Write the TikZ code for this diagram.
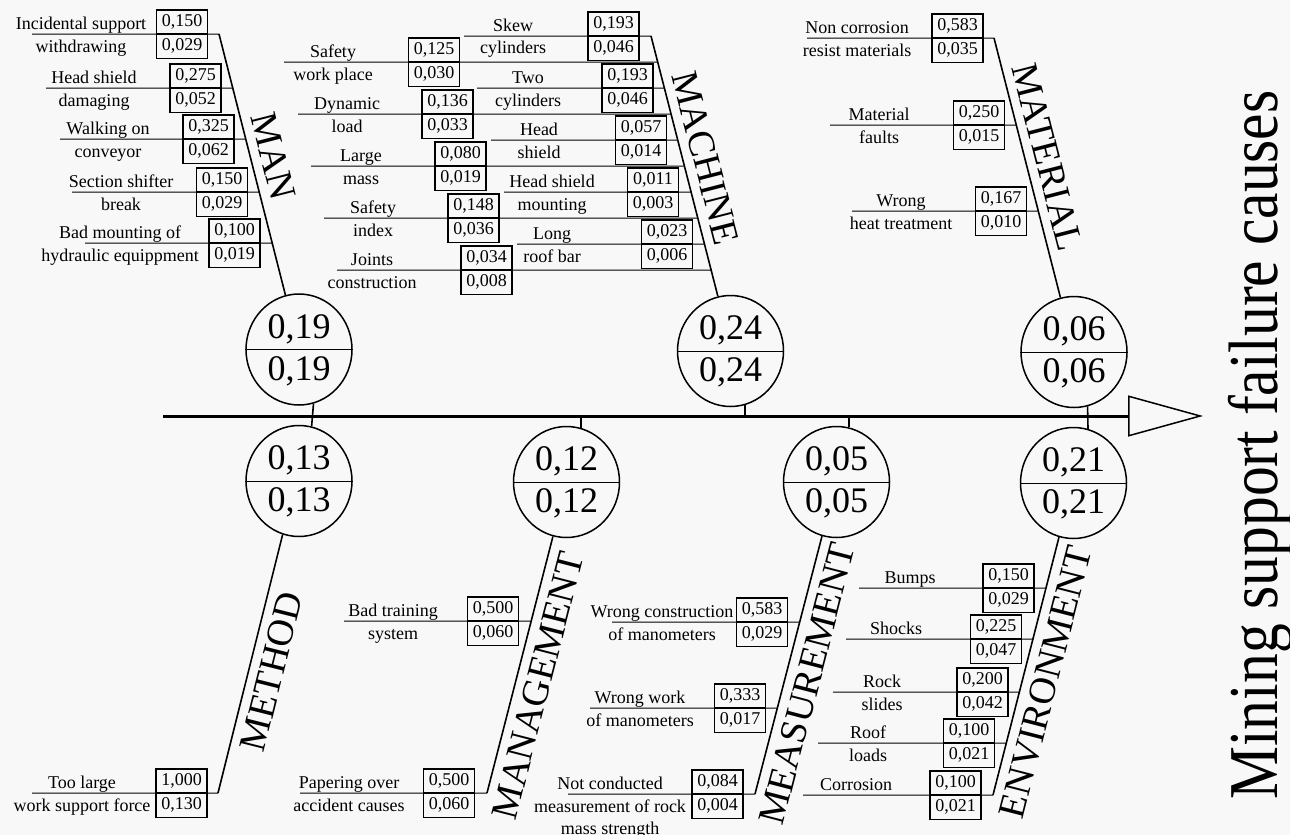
\documentclass[tikz,border=0pt]{standalone}
\usepackage{fontspec}
\setmainfont{Liberation Serif}
\usepackage{graphicx}
\usepackage{tikz}
\usetikzlibrary{arrows.meta,shapes.geometric}

\definecolor{paper}{RGB}{248,248,248}

% one cause: bone, y, line start, box x, text x, two text lines, two values
\newcommand{\cause}[9]{%
  \draw[twig] (#3,#2) -- (intersection of #1top--#1bot and 0,#2--1,#2);
  \node[cell, anchor=south] (#1#2u) at (#4,#2) {#8};
  \node[cell, anchor=north] (#1#2l) at (#4,#2) {#9};
  \node[txt] (#1#2a) at (#5,#2-4.5) {#6};
  \node[txt] (#1#2b) at (#5,#2+18) {#7};
}
% circle with its two scores
\newcommand{\score}[4]{%
  \node[ring] (#1) at (#2,#3) {};
  \draw[twig] (#1.west) -- (#1.east);
  \node[bignum] (#1-u) at ([yshift=5.75pt]#1.center) {#4};
  \node[bignum] (#1-l) at ([yshift=-15.25pt]#1.center) {#4};
}

\begin{document}
\begin{tikzpicture}[x=0.5pt, y=-0.5pt,
  twig/.style={line width=0.5pt},
  bone/.style={line width=0.8pt},
  cell/.style={draw, line width=0.55pt, minimum width=25.5pt, minimum height=11.75pt, inner sep=0pt, font=\fontsize{9}{10}\selectfont},
  txt/.style={anchor=base, inner sep=0pt, font=\fontsize{9}{10}\selectfont},
  ring/.style={ellipse, draw, line width=0.75pt, minimum width=53pt, minimum height=55.5pt, inner sep=0pt},
  bignum/.style={anchor=base, inner sep=0pt, font=\fontsize{18}{20}\selectfont},
  cat/.style={sloped, inner sep=4.5pt, font=\fontsize{19}{21}\selectfont},
  spine/.style={line width=1.5pt, -{Triangle[open, length=37.5pt, width=20.5pt, line width=0.75pt]}},
  maintitle/.style={rotate=90, anchor=base, inner sep=0pt, font=\fontsize{35}{40}\selectfont}
]
\path[use as bounding box, fill=paper] (0,0) rectangle (1290,835);

% spine
\coordinate (tail) at (163,416);
\coordinate (tip) at (1203,416);
\draw[spine] (tail) -- (tip);
\node[maintitle] (caption) at (1277,445) {\scalebox{0.85}[1]{Mining support failure causes}};

% circles
\score{man}{299}{349.5}{0,19}
\score{mac}{730.5}{351}{0,24}
\score{mat}{1074}{352}{0,06}
\score{met}{299}{481}{0,13}
\score{mgt}{566.5}{482}{0,12}
\score{mea}{836.5}{482}{0,05}
\score{env}{1073.5}{483}{0,21}

% links to the spine
\draw[bone] (man.-75) -- (met.77);
\draw[bone] (mac.-75) -- (mac.-75 |- tail);
\draw[bone] (mgt.75) -- (mgt.75 |- tail);
\draw[bone] (mea.77) -- (mea.77 |- tail);
\draw[bone] (mat.-76) -- (env.75);

% bones
\coordinate (mantop) at (219,34);
\coordinate (manbot) at (man.104);
\coordinate (mactop) at (651,36);
\coordinate (macbot) at (mac.103.5);
\coordinate (mattop) at (994,38);
\coordinate (matbot) at (mat.104);
\coordinate (mettop) at (met.-107);
\coordinate (metbot) at (218,793);
\coordinate (mgttop) at (mgt.-104);
\coordinate (mgtbot) at (487,793);
\coordinate (meatop) at (mea.-105);
\coordinate (meabot) at (755,794);
\coordinate (envtop) at (env.-105);
\coordinate (envbot) at (993,795);

\draw[bone] (mantop) -- (manbot) node[cat, above, pos=.49] (manlab) {MAN};
\draw[bone] (mactop) -- (macbot) node[cat, above, pos=.49] (maclab) {MACHINE};
\draw[bone] (mattop) -- (matbot) node[cat, above, pos=.48] (matlab) {MATERIAL};
\draw[bone] (metbot) -- (mettop) node[cat, below, pos=.49] (metlab) {METHOD};
\draw[bone] (mgtbot) -- (mgttop) node[cat, below, pos=.44] (mgtlab) {MANAGEMENT};
\draw[bone] (meabot) -- (meatop) node[cat, below, pos=.45] (mealab) {MEASUREMENT};
\draw[bone] (envbot) -- (envtop) node[cat, below, pos=.46] (envlab) {ENVIRONMENT};

% man
\cause{man}{34}{32}{182}{81}{Incidental support}{withdrawing}{0,150}{0,029}
\cause{man}{88}{46}{195.5}{94}{Head shield}{damaging}{0,275}{0,052}
\cause{man}{139}{60}{208.5}{108}{Walking on}{conveyor}{0,325}{0,062}
\cause{man}{192}{72}{222}{121}{Section shifter}{break}{0,150}{0,029}
\cause{man}{243}{85}{234.5}{120}{Bad mounting of}{hydraulic equippment}{0,100}{0,019}

% machine
\cause{mac}{36}{464}{613.5}{513}{Skew}{cylinders}{0,193}{0,046}
\cause{mac}{62}{284}{434}{333}{Safety}{work place}{0,125}{0,030}
\cause{mac}{88}{477}{627.5}{528}{Two}{cylinders}{0,193}{0,046}
\cause{mac}{114}{298}{447.5}{347}{Dynamic}{load}{0,136}{0,033}
\cause{mac}{140}{491}{641}{539}{Head}{shield}{0,057}{0,014}
\cause{mac}{166}{311}{460.5}{361}{Large}{mass}{0,080}{0,019}
\cause{mac}{192}{504}{653}{552}{Head shield}{mounting}{0,011}{0,003}
\cause{mac}{218}{324}{473.5}{373}{Safety}{index}{0,148}{0,036}
\cause{mac}{244}{517}{667}{552}{Long}{roof bar}{0,023}{0,006}
\cause{mac}{270}{337}{486.5}{372}{Joints}{construction}{0,034}{0,008}

% material
\cause{mat}{38}{807}{957.5}{857}{Non corrosion}{resist materials}{0,583}{0,035}
\cause{mat}{125}{830}{979}{879}{Material}{faults}{0,250}{0,015}
\cause{mat}{211}{852}{1001}{901}{Wrong}{heat treatment}{0,167}{0,010}

% method
\cause{met}{793}{32}{181.5}{82}{Too large}{work support force}{1,000}{0,130}

% management
\cause{mgt}{621}{344}{493}{393}{Bad training}{system}{0,500}{0,060}
\cause{mgt}{793}{300}{449}{349}{Papering over}{accident causes}{0,500}{0,060}

% measurement
\cause{mea}{622}{612}{762}{662}{Wrong construction}{of manometers}{0,583}{0,029}
\cause{mea}{708}{590}{740}{640}{Wrong work}{of manometers}{0,333}{0,017}
\cause{mea}{794}{568}{717.5}{610}{Not conducted}{measurement of rock}{0,084}{0,004}
\node[txt] (mea794c) at (610,834) {mass strength};

% environment
\cause{env}{588}{859}{1008.5}{910}{Bumps}{}{0,150}{0,029}
\cause{env}{639}{846}{996}{896}{Shocks}{}{0,225}{0,047}
\cause{env}{692}{833}{982.5}{882}{Rock}{slides}{0,200}{0,042}
\cause{env}{743}{818}{969}{868}{Roof}{loads}{0,100}{0,021}
\cause{env}{795}{803}{955.5}{856}{Corrosion}{}{0,100}{0,021}

\end{tikzpicture}
\end{document}
